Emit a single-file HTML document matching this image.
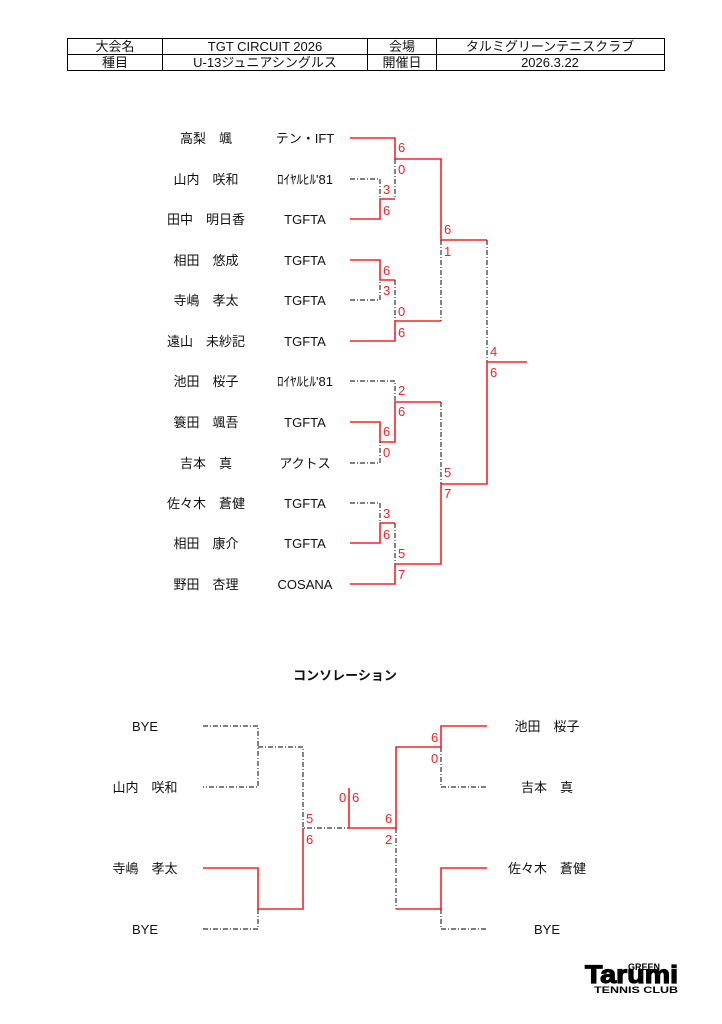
<!DOCTYPE html>
<html><head><meta charset="utf-8"><style>
html,body{margin:0;padding:0;background:#fff;width:722px;height:1024px;overflow:hidden}
svg{display:block}
text{font-family:"Liberation Sans","Noto Sans CJK JP",sans-serif;font-size:13px;fill:#111}
.s{fill:#e8262a;font-size:13px}
.r{stroke:#f0262a;stroke-width:1.6;fill:none}
.d{stroke:#333;stroke-width:1.2;fill:none;stroke-dasharray:5 2 1 2}
.t{stroke:#000;stroke-width:1;fill:none}
</style></head><body>
<svg width="722" height="1024" viewBox="0 0 722 1024" xmlns="http://www.w3.org/2000/svg">
<rect class="t" x="67.5" y="38.5" width="597" height="32"/>
<line class="t" x1="67" y1="54.5" x2="665" y2="54.5"/>
<line class="t" x1="162.5" y1="38" x2="162.5" y2="71"/>
<line class="t" x1="367.5" y1="38" x2="367.5" y2="71"/>
<line class="t" x1="436.5" y1="38" x2="436.5" y2="71"/>
<g text-anchor="middle">
<text x="115" y="51">大会名</text><text x="265" y="51">TGT CIRCUIT 2026</text>
<text x="402" y="51">会場</text><text x="550" y="51">タルミグリーンテニスクラブ</text>
<text x="115" y="67">種目</text><text x="265" y="67">U-13ジュニアシングルス</text>
<text x="402" y="67">開催日</text><text x="550" y="67">2026.3.22</text>

<text x="206" y="143">高梨　颯</text><text x="305" y="143">テン・IFT</text>
<text x="206" y="184">山内　咲和</text><text x="305" y="184">ﾛｲﾔﾙﾋﾙ'81</text>
<text x="206" y="224">田中　明日香</text><text x="305" y="224">TGFTA</text>
<text x="206" y="265">相田　悠成</text><text x="305" y="265">TGFTA</text>
<text x="206" y="305">寺嶋　孝太</text><text x="305" y="305">TGFTA</text>
<text x="206" y="346">遠山　未紗記</text><text x="305" y="346">TGFTA</text>
<text x="206" y="386">池田　桜子</text><text x="305" y="386">ﾛｲﾔﾙﾋﾙ'81</text>
<text x="206" y="427">簑田　颯吾</text><text x="305" y="427">TGFTA</text>
<text x="206" y="468">吉本　真</text><text x="305" y="468">アクトス</text>
<text x="206" y="508">佐々木　蒼健</text><text x="305" y="508">TGFTA</text>
<text x="206" y="548">相田　康介</text><text x="305" y="548">TGFTA</text>
<text x="206" y="589">野田　杏理</text><text x="305" y="589">COSANA</text>

<text x="345" y="680" style="font-weight:bold">コンソレーション</text>
<text x="145" y="731">BYE</text>
<text x="145" y="792">山内　咲和</text>
<text x="145" y="873">寺嶋　孝太</text>
<text x="145" y="934">BYE</text>
<text x="547" y="731">池田　桜子</text>
<text x="547" y="792">吉本　真</text>
<text x="547" y="873">佐々木　蒼健</text>
<text x="547" y="934">BYE</text>
</g>

<polyline class="r" points="350,138 395,138 395,159 441,159 441,240 487,240"/>
<line class="d" x1="395" y1="159" x2="395" y2="199"/>
<polyline class="d" points="350,179 380,179 380,199"/>
<polyline class="r" points="350,219 380,219 380,199 395,199"/>
<polyline class="r" points="350,260 380,260 380,280 395,280"/>
<polyline class="d" points="350,300 380,300 380,280"/>
<line class="d" x1="395" y1="280" x2="395" y2="321"/>
<polyline class="r" points="350,341 395,341 395,321 441,321"/>
<line class="d" x1="441" y1="240" x2="441" y2="321"/>
<line class="d" x1="487" y1="240" x2="487" y2="362"/>
<polyline class="r" points="527,362 487,362 487,484 441,484"/>
<polyline class="d" points="350,381 395,381 395,402"/>
<polyline class="r" points="350,422 380,422 380,442 395,442 395,402 441,402"/>
<polyline class="d" points="350,463 380,463 380,442"/>
<polyline class="d" points="350,503 380,503 380,523"/>
<polyline class="r" points="350,543 380,543 380,523 395,523"/>
<line class="d" x1="395" y1="523" x2="395" y2="564"/>
<polyline class="r" points="350,584 395,584 395,564 441,564 441,484"/>
<line class="d" x1="441" y1="402" x2="441" y2="484"/>

<text class="s" x="398" y="152">6</text><text class="s" x="398" y="174">0</text>
<text class="s" x="383" y="194">3</text><text class="s" x="383" y="215">6</text>
<text class="s" x="383" y="275">6</text><text class="s" x="383" y="295">3</text>
<text class="s" x="398" y="316">0</text><text class="s" x="398" y="337">6</text>
<text class="s" x="444" y="234">6</text><text class="s" x="444" y="256">1</text>
<text class="s" x="490" y="356">4</text><text class="s" x="490" y="377">6</text>
<text class="s" x="398" y="395">2</text><text class="s" x="398" y="416">6</text>
<text class="s" x="383" y="436">6</text><text class="s" x="383" y="457">0</text>
<text class="s" x="444" y="477">5</text><text class="s" x="444" y="498">7</text>
<text class="s" x="383" y="518">3</text><text class="s" x="383" y="539">6</text>
<text class="s" x="398" y="558">5</text><text class="s" x="398" y="579">7</text>

<polyline class="d" points="203,726 258,726 258,787 203,787"/>
<polyline class="d" points="258,747 303,747 303,828 349,828"/>
<polyline class="r" points="203,868 258,868 258,909 303,909 303,828"/>
<polyline class="d" points="203,929 258,929 258,909"/>
<polyline class="r" points="349,788 349,828 396,828 396,747 441,747 441,726 487,726"/>
<polyline class="d" points="441,747 441,787 487,787"/>
<polyline class="d" points="396,828 396,909"/>
<polyline class="r" points="396,909 441,909 441,868 487,868"/>
<polyline class="d" points="441,909 441,929 487,929"/>
<text class="s" x="306" y="823">5</text><text class="s" x="306" y="844">6</text>
<text class="s" x="339" y="802">0</text><text class="s" x="352" y="802">6</text>
<text class="s" x="385" y="823">6</text><text class="s" x="385" y="844">2</text>
<text class="s" x="431" y="742">6</text><text class="s" x="431" y="763">0</text>

<text x="585" y="983" textLength="93" lengthAdjust="spacingAndGlyphs" style="font-size:25px;font-weight:900;fill:#000;stroke:#000;stroke-width:1.2">Tarumi</text>
<text x="628" y="970" style="font-size:9px;font-weight:900;fill:#000">GREEN</text>
<text x="594" y="993" textLength="84" lengthAdjust="spacingAndGlyphs" style="font-size:9px;font-weight:900;fill:#000">TENNIS CLUB</text>
</svg>
</body></html>
